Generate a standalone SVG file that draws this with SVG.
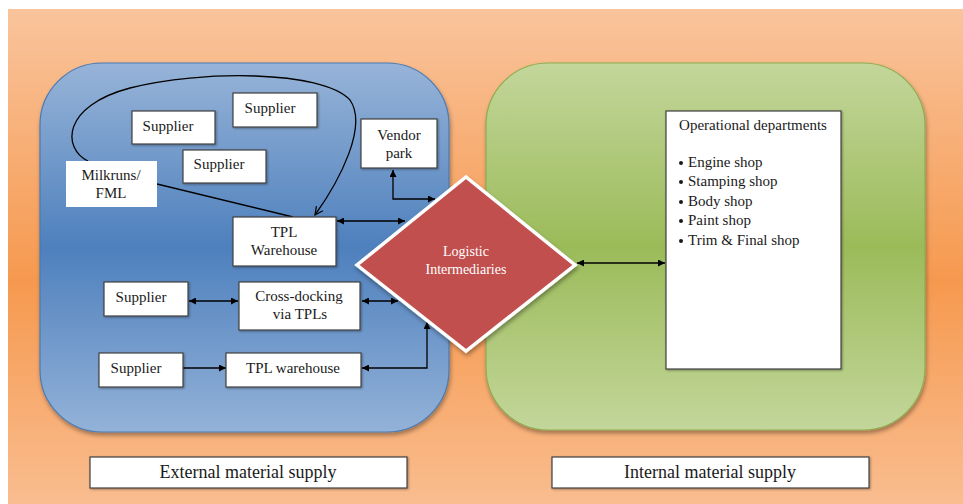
<svg xmlns="http://www.w3.org/2000/svg" width="963" height="504" viewBox="0 0 963 504">
<defs>
<linearGradient id="gOrange" x1="0" y1="0" x2="0" y2="1">
<stop offset="0" stop-color="#f9c49c"/>
<stop offset="0.55" stop-color="#f6994f"/>
<stop offset="1" stop-color="#f9bd8f"/>
</linearGradient>
<linearGradient id="gBlue" x1="0" y1="0" x2="0" y2="1">
<stop offset="0" stop-color="#97b4d8"/>
<stop offset="0.5" stop-color="#4e80bd"/>
<stop offset="1" stop-color="#93b2d8"/>
</linearGradient>
<linearGradient id="gGreen" x1="0" y1="0" x2="0" y2="1">
<stop offset="0" stop-color="#c3d69b"/>
<stop offset="0.5" stop-color="#9bbb59"/>
<stop offset="1" stop-color="#c3d69b"/>
</linearGradient>
<filter id="shadow" x="-10%" y="-10%" width="120%" height="125%">
<feDropShadow dx="1" dy="3" stdDeviation="2" flood-color="#000" flood-opacity="0.35"/>
</filter>
<filter id="bshadow" x="-10%" y="-10%" width="130%" height="130%">
<feDropShadow dx="1" dy="1" stdDeviation="0.8" flood-color="#000" flood-opacity="0.35"/>
</filter>
<marker id="arr" viewBox="0 0 8 8" markerWidth="8" markerHeight="7" refX="8" refY="4" orient="auto-start-reverse" markerUnits="userSpaceOnUse">
<path d="M0,0 L8,4 L0,8 z" fill="#000"/>
</marker>
<marker id="open" viewBox="0 0 10 10" markerWidth="10" markerHeight="10" refX="9" refY="5" orient="auto" markerUnits="userSpaceOnUse">
<path d="M1,1 L9,5 L1,9" fill="none" stroke="#000" stroke-width="1.2"/>
</marker>
</defs>
<style>
text { font-family: "Liberation Serif", "Times New Roman", serif; fill: #1a1a1a; }
.box { fill: #fff; stroke: #404040; stroke-width: 1.2; }
.lbl { font-size: 15px; text-anchor: middle; }
.big { font-size: 18px; text-anchor: middle; }
.con { fill: none; stroke: #000; stroke-width: 1.3; }
.w { fill: #fff; font-size: 14px; text-anchor: middle; }
</style>

<rect id="background" x="8" y="9" width="955" height="495" fill="url(#gOrange)"/>

<g id="external-region">
<rect x="40" y="63" width="409" height="369" rx="62" ry="62" fill="url(#gBlue)" stroke="#4a7ab5" stroke-width="1.2" filter="url(#shadow)"/>
</g>
<g id="internal-region">
<rect x="486" y="63" width="439" height="367" rx="62" ry="62" fill="url(#gGreen)" stroke="#8cad4f" stroke-width="1.2" filter="url(#shadow)"/>
</g>

<g id="connectors">
<path class="con" d="M88,161 C62,148 62,106 130,88 C200,70 322,70 350,100 C368,126 340,180 315,215" marker-end="url(#open)"/>
<path class="con" d="M157,184 L293,217"/>
<path class="con" d="M393,170 L393,199 L435,199" marker-start="url(#arr)" marker-end="url(#arr)"/>
<path class="con" d="M337,221 L405,221" marker-start="url(#arr)" marker-end="url(#arr)"/>
<path class="con" d="M362,301 L398,301" marker-start="url(#arr)" marker-end="url(#arr)"/>
<path class="con" d="M189,301 L238,301" marker-start="url(#arr)" marker-end="url(#arr)"/>
<path class="con" d="M183,368 L226,368" marker-end="url(#arr)"/>
<path class="con" d="M362,368 L427,368 L427,322" marker-start="url(#arr)" marker-end="url(#arr)"/>
<path class="con" d="M577,263 L665,263" marker-start="url(#arr)" marker-end="url(#arr)"/>
</g>

<g id="supplier-1">
<rect class="box" x="132" y="111" width="83" height="33" filter="url(#bshadow)"/>
<text class="lbl" x="168" y="131">Supplier</text>
</g>
<g id="supplier-2">
<rect class="box" x="233" y="93" width="84" height="34" filter="url(#bshadow)"/>
<text class="lbl" x="270" y="113">Supplier</text>
</g>
<g id="supplier-3">
<rect class="box" x="183" y="150" width="83" height="33" filter="url(#bshadow)"/>
<text class="lbl" x="219" y="169">Supplier</text>
</g>
<g id="milkruns">
<rect x="66" y="161" width="91" height="46" fill="#fff"/>
<text class="lbl" x="111" y="180">Milkruns/</text>
<text class="lbl" x="111" y="198">FML</text>
</g>
<g id="vendor-park">
<rect class="box" x="361" y="119" width="76" height="49" filter="url(#bshadow)"/>
<text class="lbl" x="399" y="140">Vendor</text>
<text class="lbl" x="399" y="158">park</text>
</g>
<g id="tpl-warehouse-1">
<rect class="box" x="233" y="217" width="103" height="49" filter="url(#bshadow)"/>
<text class="lbl" x="284" y="237">TPL</text>
<text class="lbl" x="284" y="255">Warehouse</text>
</g>
<g id="supplier-4">
<rect class="box" x="104" y="282" width="84" height="34" filter="url(#bshadow)"/>
<text class="lbl" x="141" y="302">Supplier</text>
</g>
<g id="cross-docking">
<rect class="box" x="239" y="282" width="121" height="48" filter="url(#bshadow)"/>
<text class="lbl" x="299" y="301">Cross-docking</text>
<text class="lbl" x="300" y="319">via TPLs</text>
</g>
<g id="supplier-5">
<rect class="box" x="99" y="353" width="84" height="34" filter="url(#bshadow)"/>
<text class="lbl" x="136" y="373">Supplier</text>
</g>
<g id="tpl-warehouse-2">
<rect class="box" x="226" y="353" width="135" height="34" filter="url(#bshadow)"/>
<text class="lbl" x="293" y="373">TPL warehouse</text>
</g>

<g id="logistic-intermediaries">
<polygon points="466,177 575,265 466,351 357,265" fill="#c0504d" stroke="#fff" stroke-width="3.5" filter="url(#shadow)"/>
<text class="w" x="466" y="256">Logistic</text>
<text class="w" x="466" y="274">Intermediaries</text>
</g>

<g id="operational-departments">
<rect class="box" x="666" y="111" width="175" height="258" filter="url(#bshadow)"/>
<text x="753" y="130" style="font-size:15px;text-anchor:middle">Operational departments</text>
<g style="font-size:15px">
<circle cx="681" cy="163" r="2" fill="#1a1a1a"/><text x="688" y="167">Engine shop</text>
<circle cx="681" cy="182" r="2" fill="#1a1a1a"/><text x="688" y="186">Stamping shop</text>
<circle cx="681" cy="202" r="2" fill="#1a1a1a"/><text x="688" y="206">Body shop</text>
<circle cx="681" cy="221" r="2" fill="#1a1a1a"/><text x="688" y="225">Paint shop</text>
<circle cx="681" cy="241" r="2" fill="#1a1a1a"/><text x="688" y="245">Trim &amp; Final shop</text>
</g>
</g>

<g id="external-label">
<rect class="box" x="90" y="457" width="317" height="31" filter="url(#bshadow)"/>
<text class="big" x="248" y="478">External material supply</text>
</g>
<g id="internal-label">
<rect class="box" x="552" y="457" width="317" height="31" filter="url(#bshadow)"/>
<text class="big" x="710" y="478">Internal material supply</text>
</g>
</svg>
